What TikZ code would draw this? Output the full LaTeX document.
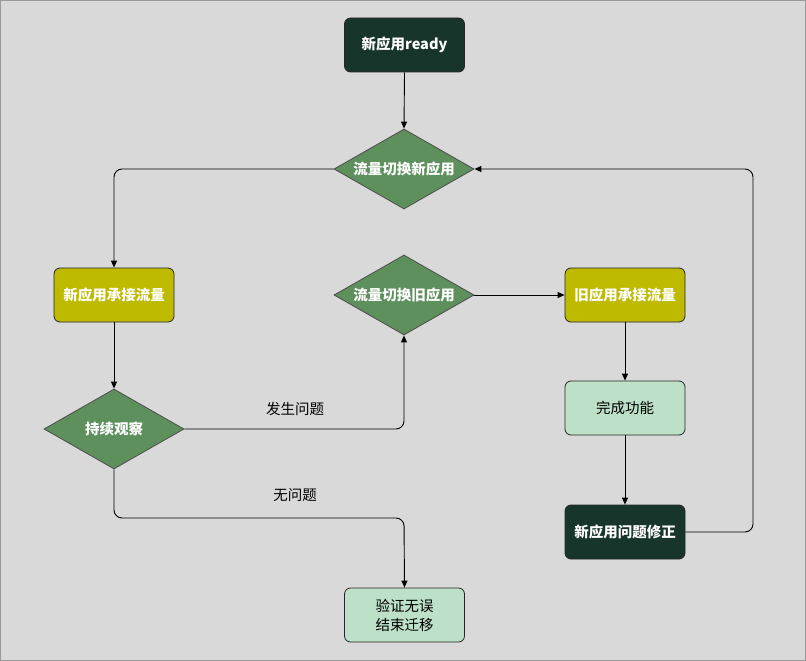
\documentclass[tikz,border=0pt]{standalone}
\usepackage{fontspec}
\setmainfont{Noto Sans CJK SC}
\usetikzlibrary{shapes.geometric,arrows.meta}
\definecolor{bg}{HTML}{D9D9D9}
\definecolor{darkg}{HTML}{17352B}
\definecolor{olive}{HTML}{BDBA00}
\definecolor{midg}{HTML}{5E905E}
\definecolor{lightg}{HTML}{BCE0C8}
\tikzset{
  box/.style={draw=black!85, line width=0.8pt, rounded corners=6pt, minimum width=120pt, minimum height=54pt, inner sep=0pt, font=\fontsize{14.5}{19}\selectfont, align=center},
  darkbox/.style={box, fill=darkg, text=white, font=\fontsize{14.5}{19}\selectfont\bfseries},
  olivebox/.style={box, fill=olive, text=white, font=\fontsize{14.5}{19}\selectfont\bfseries},
  lightbox/.style={box, fill=lightg, text=black},
  dia/.style={diamond, draw=black!70, line width=0.8pt, fill=midg, minimum width=140pt, minimum height=80pt, inner sep=0pt, aspect=1.75},
  diatext/.style={text=white, font=\fontsize{14.5}{19}\selectfont\bfseries},
  conn/.style={draw=black, line width=0.9pt, rounded corners=8pt, -{Triangle[length=7pt,width=6pt]}},
  lbl/.style={font=\fontsize{14.5}{19}\selectfont, text=black}
}
\begin{document}
\begin{tikzpicture}[x=1pt,y=-1pt]
\path[fill=bg, draw=gray!80] (0.5,0.5) rectangle (805.5,660.5);
\useasboundingbox (0,0) rectangle (806,661);
\node[darkbox] (ready) at (404.5,45) {新应用ready};
\node[dia] (sw1) at (404,169) {};
\node[diatext] (sw1t) at (sw1) {流量切换新应用};
\node[olivebox] (newtake) at (114,295) {新应用承接流量};
\node[dia] (obs) at (114,429) {};
\node[diatext] (obst) at (obs) {持续观察};
\node[dia] (sw2) at (404,295) {};
\node[diatext] (sw2t) at (sw2) {流量切换旧应用};
\node[olivebox] (oldtake) at (625,295) {旧应用承接流量};
\node[lightbox] (done) at (625,408) {完成功能};
\node[darkbox] (fix) at (625,532) {新应用问题修正};
\node[lightbox] (end) at (404.5,615) {验证无误\\结束迁移};
\coordinate (c1) at (114,169);
\coordinate (c2) at (404,429);
\coordinate (c3) at (114,518);
\coordinate (c4) at (404,518);
\coordinate (c5) at (753,532);
\coordinate (c6) at (753,169);
\draw[conn] (ready.south) -- (sw1.north);
\draw[conn] (sw1.west) -- (c1) -- (newtake.north);
\draw[conn] (newtake.south) -- (obs.north);
\draw[conn] (obs.east) -- (c2) -- (sw2.south);
\draw[conn] (obs.south) -- (c3) -- (c4) -- (end.north);
\draw[conn] (sw2.east) -- (oldtake.west);
\draw[conn] (oldtake.south) -- (done.north);
\draw[conn] (done.south) -- (fix.north);
\draw[conn] (fix.east) -- (c5) -- (c6) -- (sw1.east);
\node[lbl] (l1) at (295,409) {发生问题};
\node[lbl] (l2) at (295,495) {无问题};
\end{tikzpicture}
\end{document}
